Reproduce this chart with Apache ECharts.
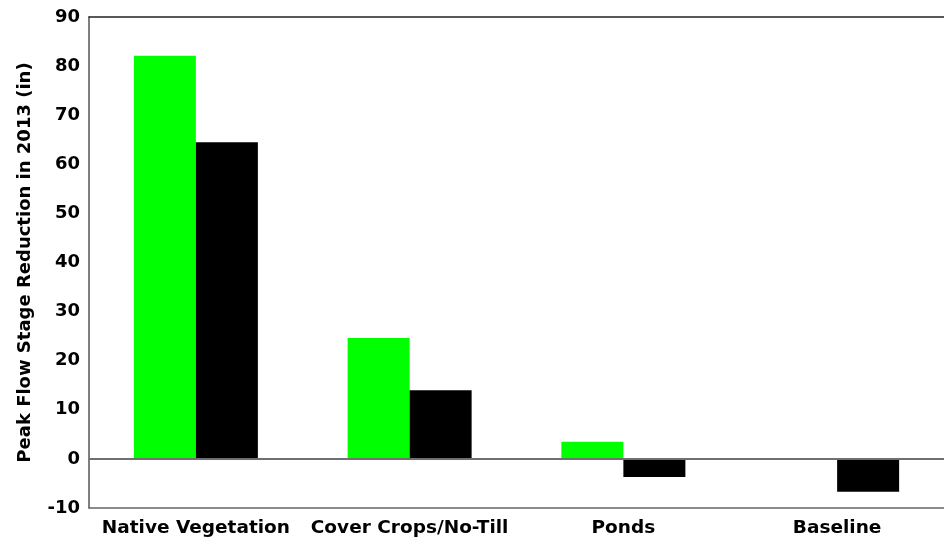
<!DOCTYPE html>
<html>
<head>
<meta charset="utf-8">
<script src="https://cdn.jsdelivr.net/npm/echarts@6/dist/echarts.min.js"></script>
<style>html,body{margin:0;padding:0;background:#fff}#c{width:944px;height:539px}</style>
</head>
<body>
<div id="c"></div>
<script>
const categories = ['Native Vegetation', 'Cover Crops/No-Till', 'Ponds', 'Baseline'];
const seriesGreen = [82.1, 24.6, 3.5, 0];
const seriesBlack = [64.5, 14.0, -3.7, -6.7];
const yTitle = 'Peak Flow Stage Reduction in 2013 (in)';

const chart = echarts.init(document.getElementById('c'), null, {renderer: 'canvas'});
const font = '"DejaVu Sans", Verdana, sans-serif';
chart.setOption({
  animation: false,
  backgroundColor: '#fff',
  grid: {left: 89, top: 17, right: 0, bottom: 31, show: false},
  xAxis: [{
    type: 'category',
    data: categories,
    axisLine: {onZero: false, lineStyle: {color: '#666', width: 1.5}},
    axisTick: {show: false},
    axisLabel: {color: '#000', fontFamily: font, fontWeight: 'bold', fontSize: 18.5, margin: 11, interval: 0, hideOverlap: false}
  }, {
    type: 'category',
    position: 'top',
    data: categories,
    axisLine: {onZero: false, lineStyle: {color: '#222', width: 1.5}},
    axisTick: {show: false},
    axisLabel: {show: false}
  }],
  yAxis: {
    type: 'value',
    min: -10, max: 90, interval: 10,
    name: yTitle,
    nameLocation: 'middle',
    nameGap: 55,
    nameTextStyle: {color: '#000', fontFamily: font, fontWeight: 'bold', fontSize: 18},
    axisLine: {show: true, lineStyle: {color: '#555', width: 1.5}},
    axisTick: {show: false},
    splitLine: {show: false},
    axisLabel: {color: '#000', fontFamily: font, fontWeight: 'bold', fontSize: 18, margin: 9}
  },
  series: [
    {
      type: 'bar', data: seriesGreen, barWidth: 62, barGap: '0%',
      itemStyle: {color: '#00ff00'},
      markLine: {silent: true, symbol: 'none', label: {show: false},
        lineStyle: {color: '#707070', width: 2, type: 'solid'}, data: [{yAxis: 0}]}
    },
    {
      type: 'bar', data: seriesBlack, barWidth: 62, barGap: '0%',
      itemStyle: {color: '#000000'}
    }
  ]
});
</script>
</body>
</html>
